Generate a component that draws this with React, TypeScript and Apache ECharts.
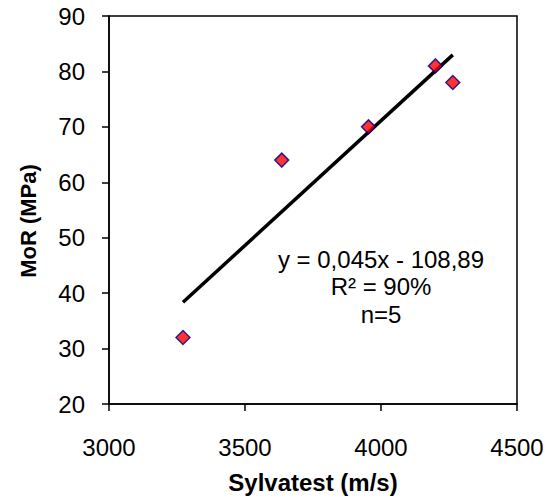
import React, { useEffect, useRef } from "react";
import * as echarts from "echarts";

const sylvatest = [3272, 3635, 3954, 4200, 4264];
const mor = [32, 64, 70, 81, 78];
const slope = 0.045;
const intercept = -108.89;
const equationLines = ["y = 0,045x - 108,89", "R² = 90%", "n=5"];
const xTicks = { min: 3000, max: 4500, interval: 500 };
const yTicks = { min: 20, max: 90, interval: 10 };
const xTitle = "Sylvatest (m/s)";
const yTitle = "MoR (MPa)";

const FONT = "'Liberation Sans', Arial, sans-serif";

export default function App() {
  const ref = useRef<HTMLDivElement>(null);
  useEffect(() => {
    if (!ref.current) return;
    const chart = echarts.init(ref.current, undefined, { renderer: "svg" });
    const xMin = Math.min(...sylvatest);
    const xMax = Math.max(...sylvatest);
    const trend = [
      [xMin, slope * xMin + intercept],
      [xMax, slope * xMax + intercept],
    ];
    chart.setOption({
      animation: false,
      backgroundColor: "#fff",
      textStyle: { fontFamily: FONT },
      grid: {
        left: 109,
        top: 16,
        right: 34,
        bottom: 92,
        show: true,
        borderColor: "#000",
        borderWidth: 1.5,
        backgroundColor: "transparent",
      },
      xAxis: {
        type: "value",
        min: xTicks.min,
        max: xTicks.max,
        interval: xTicks.interval,
        name: xTitle,
        nameLocation: "middle",
        nameGap: 66,
        nameTextStyle: { fontSize: 24, fontWeight: "bold", color: "#000", fontFamily: FONT },
        axisLine: { lineStyle: { color: "#000", width: 1.5 } },
        axisTick: { show: true, length: 7, lineStyle: { color: "#000", width: 1.5 } },
        axisLabel: {
          fontSize: 24,
          color: "#000",
          margin: 31,
          fontFamily: FONT,
          formatter: (v: number) => String(v),
        },
        splitLine: { show: false },
      },
      yAxis: {
        type: "value",
        min: yTicks.min,
        max: yTicks.max,
        interval: yTicks.interval,
        axisLine: { show: true, lineStyle: { color: "#000", width: 1.5 } },
        axisTick: { show: true, length: 7, lineStyle: { color: "#000", width: 1.5 } },
        axisLabel: { fontSize: 24, color: "#000", margin: 24, fontFamily: FONT },
        splitLine: { show: false },
      },
      series: [
        {
          type: "line",
          data: trend,
          symbol: "none",
          lineStyle: { color: "#000", width: 3.5 },
          silent: true,
          z: 2,
        },
        {
          type: "scatter",
          data: sylvatest.map((x, i) => [x, mor[i]]),
          symbol: "diamond",
          symbolSize: 14,
          itemStyle: { color: "#ff0000", borderColor: "#000080", borderWidth: 1.5 },
          z: 3,
        },
      ],
      graphic: [
        ...equationLines.map((t, i) => ({
          type: "text",
          x: 381,
          y: 259 + i * 27.5,
          style: {
            text: t,
            fontSize: 24,
            fontFamily: FONT,
            fill: "#000",
            align: "center",
            verticalAlign: "middle",
          },
          z: 10,
        })),
        {
          type: "text",
          x: 28,
          y: 221,
          rotation: Math.PI / 2,
          style: {
            text: yTitle,
            fontSize: 22,
            fontWeight: "bold",
            fontFamily: FONT,
            fill: "#000",
            align: "center",
            verticalAlign: "middle",
          },
          z: 10,
        },
      ],
    });
    return () => chart.dispose();
  }, []);
  return (
    <div
      ref={ref}
      style={{ position: "fixed", left: 0, top: 0, width: 551, height: 499 }}
    />
  );
}
